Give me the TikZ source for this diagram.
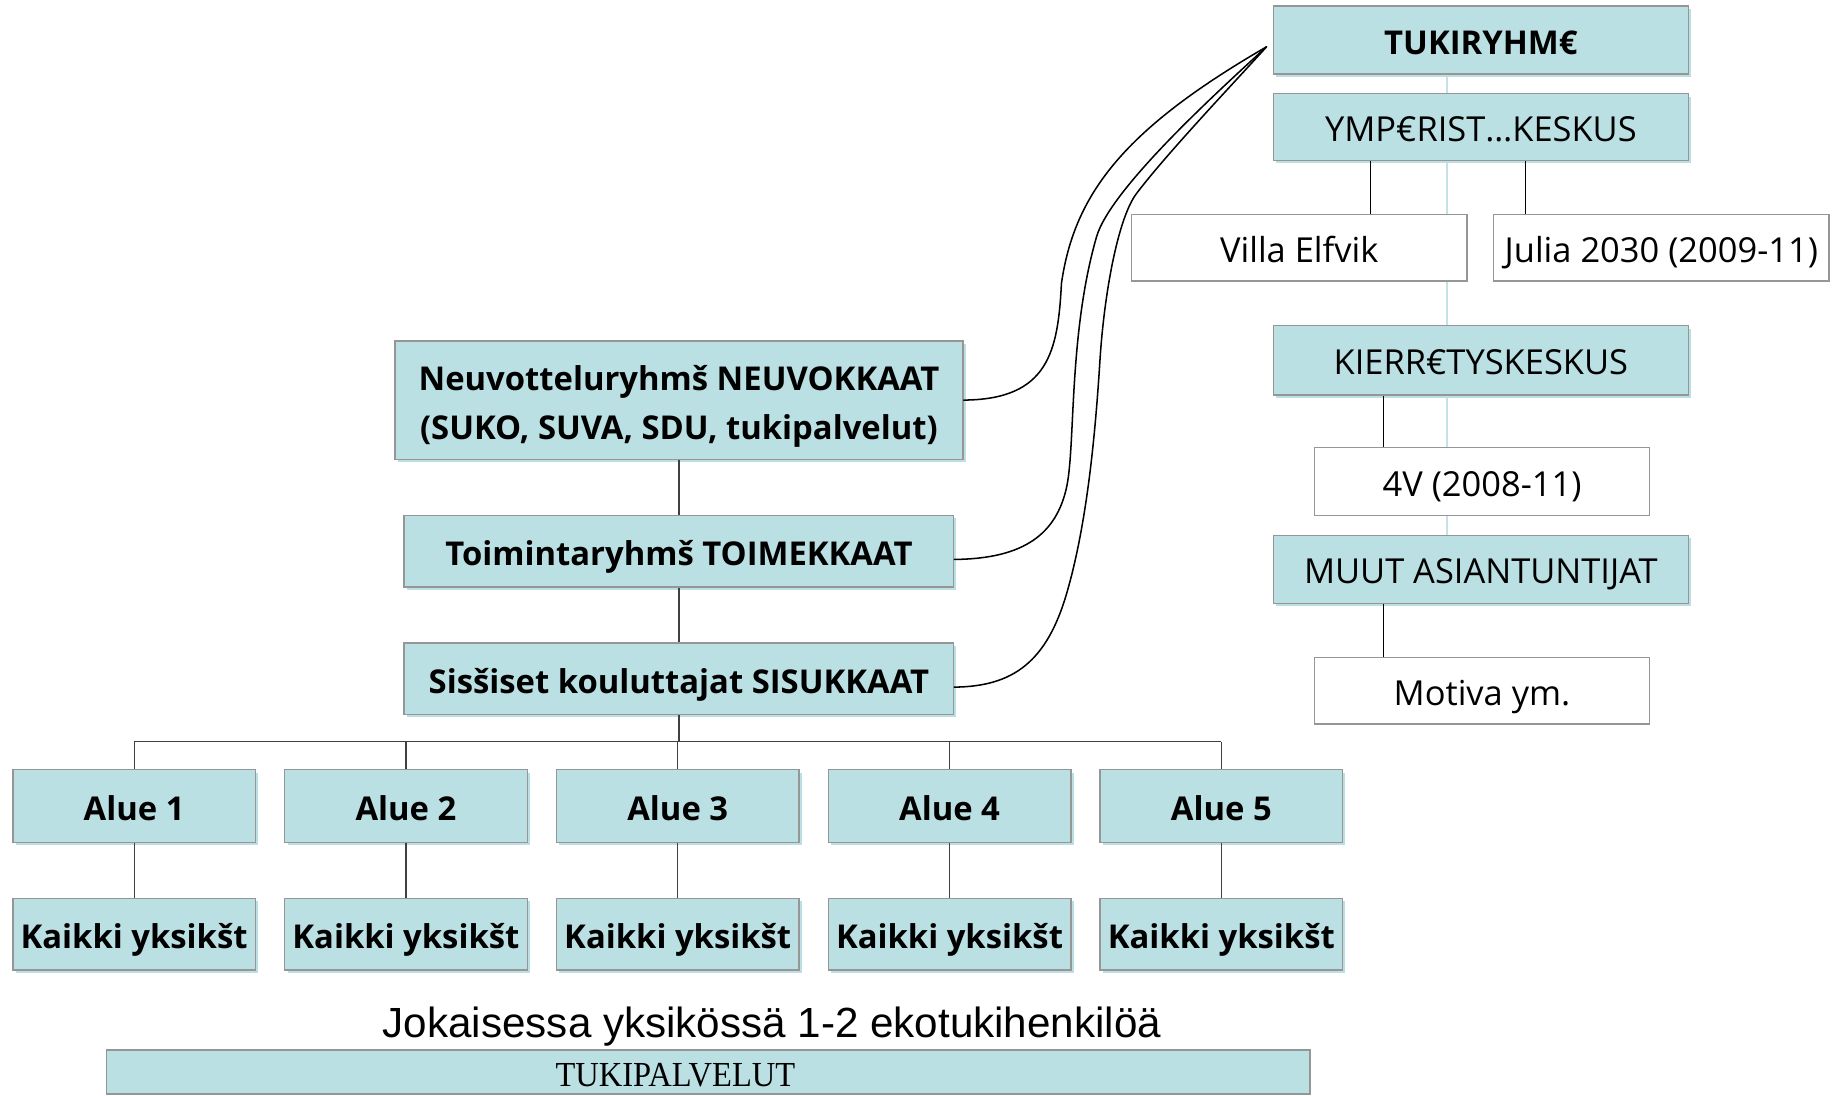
\documentclass[tikz,border=0pt]{standalone}
\usepackage{fontspec}
\setmainfont{Open Sans}
\newfontfamily\arialf{Liberation Sans}
\newfontfamily\timesf[FakeStretch=0.925]{Liberation Serif}
\usetikzlibrary{shadows,backgrounds}
\definecolor{boxblue}{RGB}{186,224,227}
\definecolor{boxline}{RGB}{150,150,150}
\definecolor{faintblue}{RGB}{196,226,230}
\tikzset{
  bluebox/.style={draw=boxline, line width=0.6pt, fill=boxblue, inner sep=0pt,
    text height=14.4pt, text depth=2pt,
    font=\fontsize{14}{21}\selectfont\bfseries,
    general shadow={fill=boxblue, shadow xshift=1.2pt, shadow yshift=-1.2pt}},
  plainblue/.style={bluebox, font=\fontsize{14.7}{17}\selectfont},
  whitebox/.style={draw=boxline, line width=0.6pt, fill=white, inner sep=0pt,
    text height=14.4pt, text depth=2pt,
    font=\fontsize{14.7}{17}\selectfont},
  flatblue/.style={draw=boxline, line width=0.7pt, fill=boxblue, inner sep=0pt,
    text height=13pt, text depth=1pt},
  conn/.style={draw=black!75, line width=0.5pt},
  rconn/.style={draw=black, line width=0.5pt},
  curve/.style={draw=black, line width=0.65pt, line cap=round},
}
\begin{document}
\begin{tikzpicture}[x=0.5pt,y=-0.5pt]
\useasboundingbox (0,0) rectangle (1568,935);

% right column
\node[bluebox, minimum width=177pt, minimum height=29pt] (tuki) at (1264,34) {TUKIRYHM€};
\node[plainblue, minimum width=177pt, minimum height=28.5pt] (ymp) at (1264,108.5) {YMP€RIST…KESKUS};
\node[whitebox, minimum width=143pt, minimum height=28.5pt] (villa) at (1109,211.5) {Villa Elfvik};
\node[whitebox, minimum width=143pt, minimum height=28.5pt] (julia) at (1418,211.5) {Julia 2030 (2009-11)};
\node[plainblue, minimum width=177pt, minimum height=29.5pt] (kierr) at (1264,307.5) {KIERR€TYSKESKUS};
\node[whitebox, minimum width=143pt, minimum height=29pt] (v4) at (1265,411) {4V (2008-11)};
\node[plainblue, minimum width=177pt, minimum height=29pt] (muut) at (1264,486) {MUUT ASIANTUNTIJAT};
\node[whitebox, minimum width=143pt, minimum height=28.5pt] (motiva) at (1265,589.5) {Motiva ym.};

% left column
\node[bluebox, text height=35pt, text depth=1.5pt, minimum width=242.5pt, minimum height=50.5pt] (neuv) at (579.5,341.5)
  {\begin{tabular}[b]{@{}c@{}}Neuvotteluryhmš NEUVOKKAAT\\(SUKO, SUVA, SDU, tukipalvelut)\end{tabular}};
\node[bluebox, minimum width=234.5pt, minimum height=30.5pt] (toim) at (579.5,470.5) {Toimintaryhmš TOIMEKKAAT};
\node[bluebox, minimum width=234.5pt, minimum height=30.5pt] (sis) at (579.5,579.5) {Sisšiset kouluttajat SISUKKAAT};

% areas
\foreach \i/\cx in {1/114.5,2/346.5,3/578.5,4/810.5,5/1042.5}{
  \node[bluebox, minimum width=103.5pt, minimum height=31pt] (a\i) at (\cx,688) {Alue \i};
  \node[bluebox, minimum width=103.5pt, minimum height=30.5pt] (k\i) at (\cx,797.5) {Kaikki yksikšt};
}

\node[font=\arialf\fontsize{18}{20}\selectfont, inner sep=0pt] (jok) at (659,876) {Jokaisessa yksikössä 1-2 ekotukihenkilöä};
\node[flatblue, font=\timesf\fontsize{15}{16}\selectfont, minimum width=513.5pt, minimum height=19pt] (tukip) at (604.5,915) {\hspace*{-28pt}TUKIPALVELUT};

% helper coordinates
\coordinate (bus) at (0,633);
\coordinate (fx) at (1235,0);
\coordinate (vx) at (1170,0);
\coordinate (jx) at (1302,0);
\coordinate (kx) at (1181,0);
\coordinate (apex) at (1081,40);

% faint background line in the right column
\begin{scope}[on background layer]
  \draw[faintblue, line width=0.8pt] (fx |- tuki.south) -- (fx |- muut.north);
\end{scope}

% left tree connectors
\draw[conn] (neuv.south) -- (neuv.south |- toim.north);
\draw[conn] (toim.south) -- (toim.south |- sis.north);
\draw[conn] (sis.south) -- (sis.south |- bus);
\draw[conn] (a1.north |- bus) -- (a5.north |- bus);
\foreach \i in {1,...,5}{
  \draw[conn] (a\i.north |- bus) -- (a\i.north);
  \draw[conn] (a\i.south) -- (k\i.north);
}

% right tree connectors
\draw[rconn] (vx |- ymp.south) -- (vx |- villa.north);
\draw[rconn] (jx |- ymp.south) -- (jx |- julia.north);
\draw[rconn] (kx |- kierr.south) -- (kx |- v4.north);
\draw[rconn] (kx |- muut.south) -- (kx |- motiva.north);

% curves from the support group
\draw[curve] (neuv.east) .. controls (895,341) and (903,300) .. (906,242)
  .. controls (917,165) and (960,110) .. (apex);
\draw[curve] ([yshift=-3.5pt]toim.east) .. controls (875,477) and (902,455) .. (910.5,415.4)
  .. controls (918,380) and (912,285) .. (936,202)
  .. controls (948,161) and (1040,77.6) .. (apex);
\draw[curve] ([yshift=-3.5pt]sis.east) .. controls (865,586) and (893.5,564.7) .. (910.5,506.4)
  .. controls (927.5,448) and (934.7,374) .. (938.9,307.3)
  .. controls (942.4,251.8) and (954,186.3) .. (970.2,165)
  .. controls (997.2,129.5) and (1056,67.8) .. (apex);
\end{tikzpicture}
\end{document}
